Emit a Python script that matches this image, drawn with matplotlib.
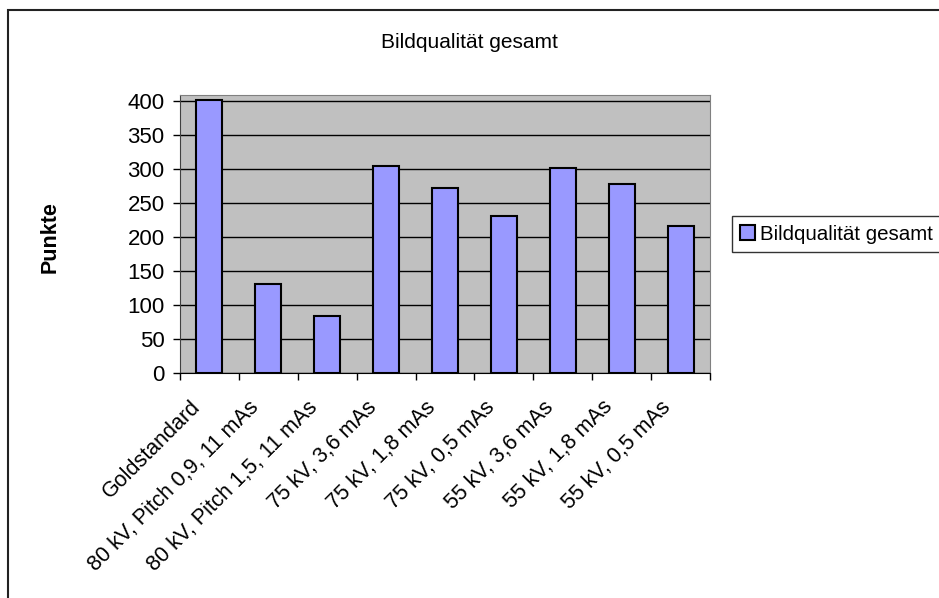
import matplotlib.pyplot as plt
import numpy as np
from matplotlib.patches import Rectangle
from matplotlib.transforms import ScaledTranslation

categories = ["Goldstandard", "80 kV, Pitch 0,9, 11 mAs", "80 kV, Pitch 1,5, 11 mAs",
              "75 kV, 3,6 mAs", "75 kV, 1,8 mAs", "75 kV, 0,5 mAs",
              "55 kV, 3,6 mAs", "55 kV, 1,8 mAs", "55 kV, 0,5 mAs"]
values = [401, 131, 84, 305, 272, 231, 302, 278, 217]
yticks = [0, 50, 100, 150, 200, 250, 300, 350, 400]
series_name = "Bildqualität gesamt"

plt.rcParams['font.family'] = ['Liberation Sans', 'DejaVu Sans']

fig = plt.figure(figsize=(9.39, 5.98), dpi=100)
ax = fig.add_axes([180 / 939, 1 - 373 / 598, 530 / 939, 278 / 598])

x = np.arange(len(categories))
ax.set_facecolor("#C0C0C0")
ax.bar(x, values, width=0.44, color="#9999FF", edgecolor="black", linewidth=1.5,
       label=series_name, zorder=3)

ax.set_xlim(-0.5, len(categories) - 0.5)
ax.set_ylim(0, 409)
ax.set_yticks(yticks)
ax.yaxis.grid(True, color="black", linewidth=1, zorder=1)
ax.set_axisbelow(True)
ax.tick_params(axis="y", labelsize=16, direction="out", length=5, width=1, pad=6)

# category labels at centres, tick marks at boundaries
ax.set_xticks(x)
ax.set_xticklabels(categories, rotation=45, ha="right", va="top",
                   rotation_mode="anchor", fontsize=15.5)
ax.tick_params(axis="x", which="major", length=0, pad=17)
shift = ScaledTranslation(-20 / 100, 0, fig.dpi_scale_trans)
for lbl in ax.get_xticklabels():
    lbl.set_transform(lbl.get_transform() + shift)
ax.set_xticks(np.arange(-0.5, len(categories)), minor=True)
ax.tick_params(axis="x", which="minor", direction="out", length=5, width=1)

for s in ["top", "right"]:
    ax.spines[s].set_color("#808080")
ax.spines["left"].set_color("#404040")
ax.spines["bottom"].set_color("black")

ax.set_ylabel("Punkte", fontsize=15.5, fontweight="bold")
ax.yaxis.set_label_coords(-0.226, 0.489)
fig.text(0.5, 1 - 42 / 598, "Bildqualität gesamt", ha="center", va="center", fontsize=15)

fig.legend(loc="center left", bbox_to_anchor=(732 / 939, 1 - 234 / 598), fontsize=14.8,
           frameon=True, fancybox=False, edgecolor="black", borderpad=0.4,
           borderaxespad=0, handlelength=0.7, handleheight=0.7, handletextpad=0.25)

# outer chart frame (right and bottom edges fall outside the image)
fig.patches.append(Rectangle((8 / 939, -0.1), 1.2, 1.1 - 10 / 598, transform=fig.transFigure,
                             fill=False, edgecolor="#222222", linewidth=1.5))

fig.savefig("out.png", dpi=100)
